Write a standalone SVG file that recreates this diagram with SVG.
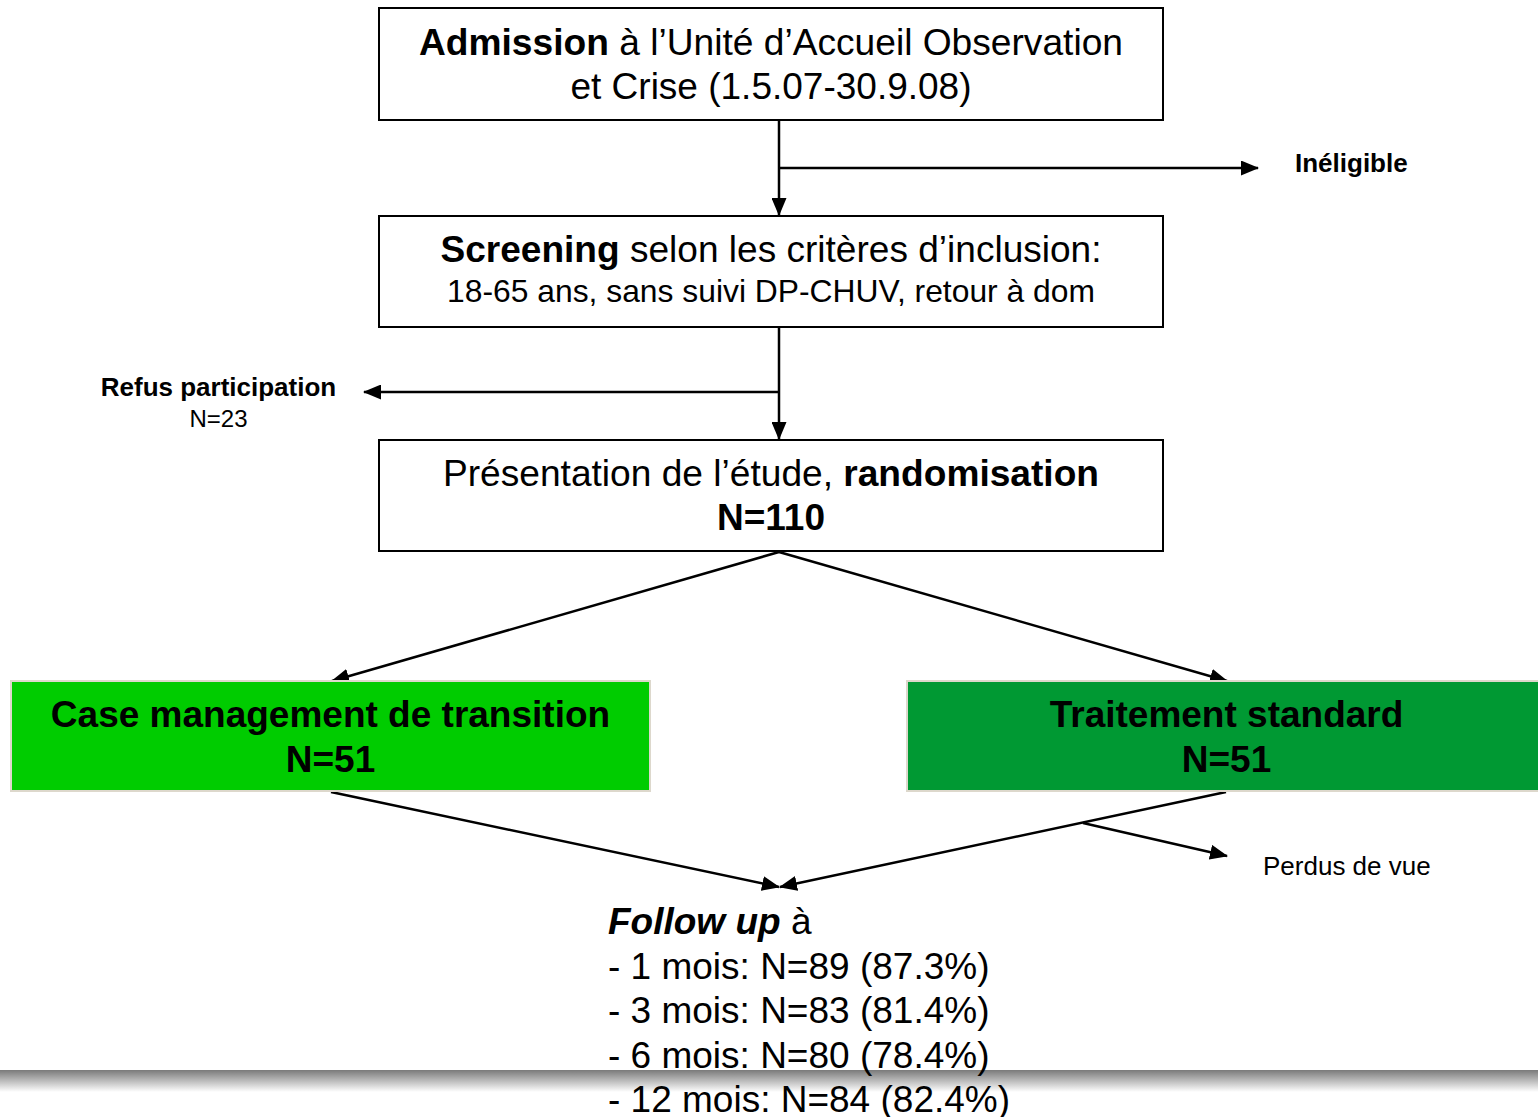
<svg xmlns="http://www.w3.org/2000/svg" width="1538" height="1117" viewBox="0 0 1538 1117">
<defs>
<marker id="arr" markerUnits="userSpaceOnUse" markerWidth="19" markerHeight="15" refX="17" refY="7.5" orient="auto">
<path d="M0,0 L18,7.5 L0,15 Z" fill="#000"/>
</marker>
<linearGradient id="band" x1="0" y1="0" x2="0" y2="1">
<stop offset="0" stop-color="#7a7a7a"/>
<stop offset="0.35" stop-color="#a8a8a8"/>
<stop offset="1" stop-color="#ffffff"/>
</linearGradient>
</defs>
<style>
text{font-family:"Liberation Sans",Arial,sans-serif;fill:#000}
.box{fill:#fff;stroke:#000;stroke-width:2}
.g1{fill:#00cc00;stroke:#ddd8cc;stroke-width:2}
.g2{fill:#009933;stroke:#ddd8cc;stroke-width:2}
.big{font-size:37px}
.mid{font-size:32px}
.sm{font-size:26px}
.b{font-weight:bold}
.c{text-anchor:middle}
.ln{fill:none;stroke:#000;stroke-width:2.5}
.la{fill:none;stroke:#000;stroke-width:2.5;marker-end:url(#arr)}
</style>
<rect width="1538" height="1117" fill="#fff"/>

<g id="connectors">
<line class="la" x1="779" y1="121" x2="779" y2="215"/>
<line class="la" x1="779" y1="168" x2="1258" y2="168"/>
<line class="la" x1="779" y1="328" x2="779" y2="439"/>
<line class="la" x1="779" y1="392" x2="364" y2="392"/>
<line class="la" x1="779" y1="552" x2="332" y2="681"/>
<line class="la" x1="779" y1="552" x2="1227" y2="681"/>
<line class="la" x1="331" y1="792" x2="779" y2="887"/>
<line class="la" x1="1226" y1="792" x2="780" y2="887"/>
<line class="la" x1="1083" y1="823" x2="1227" y2="856"/>
</g>

<g id="admission">
<rect class="box" x="379" y="8" width="784" height="112"/>
<text class="big c" x="771" y="55" textLength="704" lengthAdjust="spacingAndGlyphs"><tspan class="b">Admission</tspan> à l’Unité d’Accueil Observation</text>
<text class="big c" x="771" y="99">et Crise (1.5.07-30.9.08)</text>
</g>

<g id="ineligible">
<text class="sm b" x="1295" y="172">Inéligible</text>
</g>

<g id="screening">
<rect class="box" x="379" y="216" width="784" height="111"/>
<text class="big c" x="771" y="262" textLength="661" lengthAdjust="spacingAndGlyphs"><tspan class="b">Screening</tspan> selon les critères d’inclusion:</text>
<text class="mid c" x="771" y="302" textLength="648" lengthAdjust="spacingAndGlyphs">18-65 ans, sans suivi DP-CHUV, retour à dom</text>
</g>

<g id="refus">
<text class="sm b c" x="218.5" y="396">Refus participation</text>
<text class="sm c" x="218.5" y="427" style="font-size:24px">N=23</text>
</g>

<g id="randomisation">
<rect class="box" x="379" y="440" width="784" height="111"/>
<text class="big c" x="771" y="486" textLength="656" lengthAdjust="spacingAndGlyphs">Présentation de l’étude, <tspan class="b">randomisation</tspan></text>
<text class="big b c" x="771" y="530">N=110</text>
</g>

<g id="case-management">
<rect class="g1" x="11" y="681" width="639" height="110"/>
<text class="big b c" x="330.5" y="727">Case management de transition</text>
<text class="big b c" x="330.5" y="772">N=51</text>
</g>

<g id="traitement-standard">
<rect class="g2" x="907" y="681" width="640" height="110"/>
<text class="big b c" x="1226.5" y="727">Traitement standard</text>
<text class="big b c" x="1226.5" y="772">N=51</text>
</g>

<g id="perdus">
<text class="sm" x="1263" y="875">Perdus de vue</text>
</g>

<rect x="0" y="1070" width="1538" height="22" fill="url(#band)"/>

<g id="follow-up">
<text class="big" x="608" y="934"><tspan class="b" font-style="italic">Follow up</tspan> à</text>
<text class="big" x="608" y="979">- 1 mois: N=89 (87.3%)</text>
<text class="big" x="608" y="1023">- 3 mois: N=83 (81.4%)</text>
<text class="big" x="608" y="1068">- 6 mois: N=80 (78.4%)</text>
<text class="big" x="608" y="1112">- 12 mois: N=84 (82.4%)</text>
</g>
</svg>
